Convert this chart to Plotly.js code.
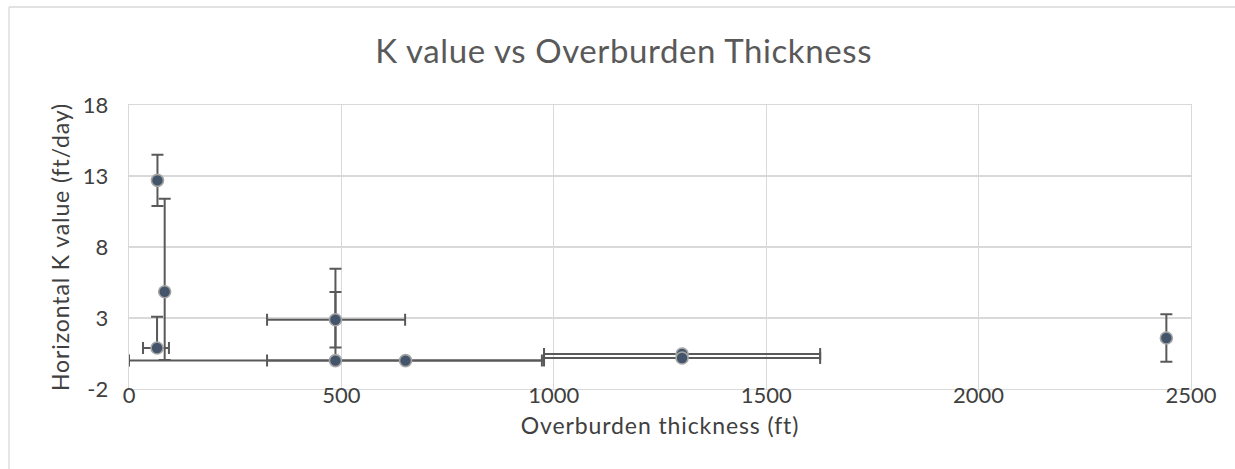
<!DOCTYPE html>
<html>
<head>
<meta charset="utf-8">
<script src="https://cdn.plot.ly/plotly-3.0.1.min.js"></script>
<style>
html,body{margin:0;padding:0;background:#fff;}
#chart{width:1235px;height:469px;}
#chart .xtitle, #chart .ytitle{letter-spacing:0.9px;}
#chart .gtitle{letter-spacing:0.6px;}
</style>
</head>
<body>
<div id="chart"></div>
<script>
// Data
const thickness = [67, 84, 66, 486, 486, 651, 1302, 1302, 2442];
const kValue    = [12.69, 4.85, 0.89, 2.88, 0, 0, 0.46, 0.18, 1.59];
const kErrPlus  = [1.8, 6.55, 2.2, 1.95, 6.47, 0, 0, 0, 1.67];
const kErrMinus = [1.8, 4.8, 0, 1.95, 0, 0, 0, 0, 1.67];
const tErrPlus  = [0, 0, 28, 164, 486, 326, 325, 325, 0];
const tErrMinus = [0, 0, 33, 161, 486, 326, 325, 325, 0];
const xTicks = [0, 500, 1000, 1500, 2000, 2500];
const yTicks = [-2, 3, 8, 13, 18];

const W = 1235, H = 469;
const M = {l: 129, r: 44, t: 105, b: 80};
const px = v => (v - M.l) / (W - M.l - M.r);
const py = v => 1 - (v - M.t) / (H - M.t - M.b);

const FONT = 'Lato, "Open Sans", sans-serif';
const errStyle = {color: '#595959', thickness: 2, width: 6};

const trace = {
  type: 'scatter', mode: 'markers',
  x: thickness, y: kValue,
  marker: {size: 12, color: '#44546a', line: {color: '#a5a5a5', width: 1.6}},
  error_y: Object.assign({type: 'data', symmetric: false, array: kErrPlus, arrayminus: kErrMinus, visible: true}, errStyle),
  error_x: Object.assign({type: 'data', symmetric: false, array: tErrPlus, arrayminus: tErrMinus, visible: true}, errStyle),
  hoverinfo: 'x+y', showlegend: false
};

const layout = {
  width: W, height: H,
  margin: M,
  paper_bgcolor: '#ffffff', plot_bgcolor: '#ffffff',
  font: {family: FONT, color: '#595959'},
  title: {text: 'K value vs Overburden Thickness', font: {size: 33, color: '#595959', family: FONT},
          xref: 'container', x: 0.505, xanchor: 'center', yref: 'container', y: 0.891, yanchor: 'middle'},
  xaxis: {
    range: [0, 2500], tickvals: xTicks, ticktext: xTicks.map(String),
    showgrid: true, gridcolor: '#d9d9d9', gridwidth: 1.3,
    zeroline: false, showline: true, linecolor: '#d9d9d9', linewidth: 1.3, mirror: true,
    ticks: '', ticklabelstandoff: -14, tickfont: {size: 22, color: '#404040', family: FONT},
    title: {text: 'Overburden thickness (ft)', font: {size: 23, color: '#404040', family: FONT}, standoff: 11}
  },
  yaxis: {
    range: [-2, 18], tickvals: yTicks, ticktext: yTicks.map(String),
    showgrid: true, gridcolor: '#d9d9d9', gridwidth: 1.3,
    zeroline: false, showline: true, linecolor: '#d9d9d9', linewidth: 1.3, mirror: true,
    ticks: '', ticklabelstandoff: 15, tickfont: {size: 22, color: '#404040', family: FONT},
    title: {text: 'Horizontal K value (ft/day)', font: {size: 23, color: '#404040', family: FONT}, standoff: 6}
  },
  shapes: [
    {type: 'line', xref: 'paper', yref: 'paper', x0: px(9), x1: px(W + 5), y0: py(7), y1: py(7), line: {color: '#d9d9d9', width: 1.3}, layer: 'below'},
    {type: 'line', xref: 'paper', yref: 'paper', x0: px(9), x1: px(9), y0: py(7), y1: py(H + 5), line: {color: '#d9d9d9', width: 1.3}, layer: 'below'}
  ]
};

Plotly.newPlot('chart', [trace], layout, {displayModeBar: false, staticPlot: true});
</script>
</body>
</html>
